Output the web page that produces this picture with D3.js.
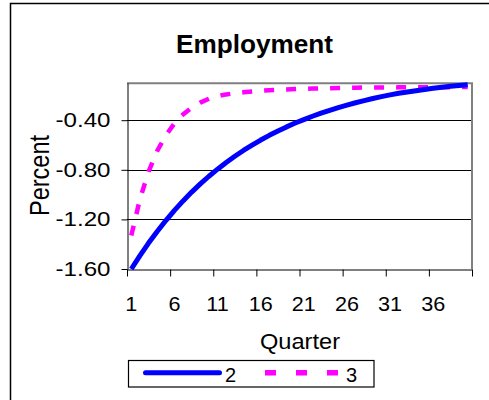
<!DOCTYPE html>
<html>
  <head>
    <meta charset="utf-8">
    <script type="text/javascript" src="https://cdn.jsdelivr.net/npm/d3@7"></script>
    <title>Employment</title>
    <style>
      body { margin: 0; background: #fff; }
      text { font-family: "Liberation Sans", Arial, sans-serif; fill: #000; }
    </style>
  </head>
  <body>
    <div id="chart"></div>
    <script type="text/javascript">
    // quarters 1..40
    var quarters = d3.range(1, 41);
    var xTickLabels = [1, 6, 11, 16, 21, 26, 31, 36];
    var yTicks = [-1.6, -1.2, -0.8, -0.4];
    var seriesNames = ["2", "3"];

    // series "2" (solid blue)
    var series2 = [-1.600, -1.492, -1.391, -1.297, -1.209, -1.127, -1.051, -0.980, -0.914, -0.852,
                   -0.795, -0.741, -0.691, -0.644, -0.601, -0.560, -0.522, -0.487, -0.454, -0.423,
                   -0.395, -0.368, -0.343, -0.320, -0.298, -0.278, -0.259, -0.242, -0.225, -0.210,
                   -0.196, -0.183, -0.172, -0.162, -0.152, -0.143, -0.135, -0.127, -0.120, -0.114];
    // series "3" (dashed magenta)
    var series3 = [-1.330, -1.037, -0.815, -0.648, -0.522, -0.426, -0.354, -0.299, -0.258, -0.227,
                   -0.205, -0.192, -0.183, -0.175, -0.168, -0.162, -0.158, -0.155, -0.152, -0.149,
                   -0.147, -0.145, -0.143, -0.142, -0.140, -0.139, -0.138, -0.137, -0.137, -0.136,
                   -0.136, -0.135, -0.135, -0.135, -0.134, -0.134, -0.134, -0.134, -0.133, -0.133];

    var w = 489, h = 400;
    var pLeft = 127, pRight = 472, pTop = 83, pBottom = 269;

    var svg = d3.select("#chart")
        .append("svg")
        .attr("width", w)
        .attr("height", h);

    // outer chart border (runs off the right and bottom)
    svg.append("rect")
        .attr("x", 10.5).attr("y", 3.5)
        .attr("width", 500).attr("height", 420)
        .attr("fill", "none").attr("stroke", "#000").attr("stroke-width", 1.5);

    // category axis: quarters between tick marks
    var x = d3.scaleLinear().domain([0.5, 40.5]).range([pLeft, pRight]);
    var y = d3.scaleLinear().domain([-1.6, -0.1]).range([pBottom, pTop]);

    // gridlines
    svg.append("g").selectAll("line")
        .data(yTicks.filter(function(d) { return d > -1.6; }))
        .enter().append("line")
        .attr("x1", pLeft).attr("x2", pRight)
        .attr("y1", function(d) { return Math.round(y(d)) + 0.5; })
        .attr("y2", function(d) { return Math.round(y(d)) + 0.5; })
        .attr("stroke", "#000").attr("stroke-width", 1);

    // plot frame: top and right in grey
    svg.append("path")
        .attr("d", "M" + pLeft + "," + (pTop + 0.3) + "H" + pRight + "V" + pBottom)
        .attr("fill", "none").attr("stroke", "#808080").attr("stroke-width", 2);

    // y axis (plain hyphen for the minus sign)
    var yAxis = svg.append("g")
        .attr("transform", "translate(" + (pLeft + 0.5) + ",0)")
        .call(d3.axisLeft(y).tickValues(yTicks).tickSize(6).tickSizeOuter(0).tickPadding(11)
          .tickFormat(function(d) { return d.toFixed(2); }));
    yAxis.select(".domain").attr("stroke", "#000");
    yAxis.selectAll("text")
        .attr("font-size", 20)
        .attr("textLength", 55)
        .attr("lengthAdjust", "spacingAndGlyphs");

    // x axis: tick marks at category boundaries, labels at centers
    var boundaries = d3.range(0.5, 41, 5);
    var xAxis = svg.append("g")
        .attr("transform", "translate(0," + (pBottom + 0.5) + ")")
        .call(d3.axisBottom(x).tickValues(boundaries).tickSize(7).tickSizeOuter(0).tickFormat(""));
    xAxis.select(".domain").attr("stroke", "#000");

    svg.append("g").selectAll("text")
        .data(xTickLabels)
        .enter().append("text")
        .attr("transform", function(d) { return "translate(" + x(d) + ",310.5) scale(1.08,1)"; })
        .attr("text-anchor", "middle")
        .attr("font-size", 20)
        .text(function(d) { return d; });

    // lines
    var line = d3.line()
        .x(function(d, i) { return x(quarters[i]); })
        .y(function(d) { return y(d); });

    svg.append("path")
        .datum(series3)
        .attr("d", line)
        .attr("fill", "none")
        .attr("stroke", "#ff00ff")
        .attr("stroke-width", 4.5)
        .attr("stroke-dasharray", "10,12");

    svg.append("path")
        .datum(series2)
        .attr("d", line)
        .attr("fill", "none")
        .attr("stroke", "#0000ff")
        .attr("stroke-width", 5)
        .attr("stroke-linejoin", "round");

    // titles
    svg.append("text")
        .attr("x", 254.5).attr("y", 52.7)
        .attr("text-anchor", "middle")
        .attr("font-size", 25).attr("font-weight", "bold")
        .attr("textLength", 157).attr("lengthAdjust", "spacingAndGlyphs")
        .text("Employment");

    svg.append("text")
        .attr("transform", "translate(49,175.5) scale(1.15,1) rotate(-90)")
        .attr("text-anchor", "middle")
        .attr("font-size", 23.5)
        .text("Percent");

    svg.append("text")
        .attr("x", 300).attr("y", 349.3)
        .attr("text-anchor", "middle")
        .attr("font-size", 21.5)
        .attr("textLength", 80).attr("lengthAdjust", "spacingAndGlyphs")
        .text("Quarter");

    // legend
    var legend = svg.append("g");
    legend.append("rect")
        .attr("x", 128.5).attr("y", 360.5)
        .attr("width", 245.5).attr("height", 26.5)
        .attr("fill", "#fff").attr("stroke", "#000").attr("stroke-width", 1.2);
    legend.append("line")
        .attr("x1", 145.5).attr("x2", 219.5).attr("y1", 372.7).attr("y2", 372.7)
        .attr("stroke", "#0000ff").attr("stroke-width", 5).attr("stroke-linecap", "round");
    legend.append("text")
        .attr("x", 225).attr("y", 382).attr("font-size", 20)
        .text(seriesNames[0]);
    legend.append("line")
        .attr("x1", 265).attr("x2", 338).attr("y1", 372.7).attr("y2", 372.7)
        .attr("stroke", "#ff00ff").attr("stroke-width", 5.5).attr("stroke-dasharray", "11,20");
    legend.append("text")
        .attr("x", 346).attr("y", 382).attr("font-size", 20)
        .text(seriesNames[1]);
    </script>
  </body>
</html>
